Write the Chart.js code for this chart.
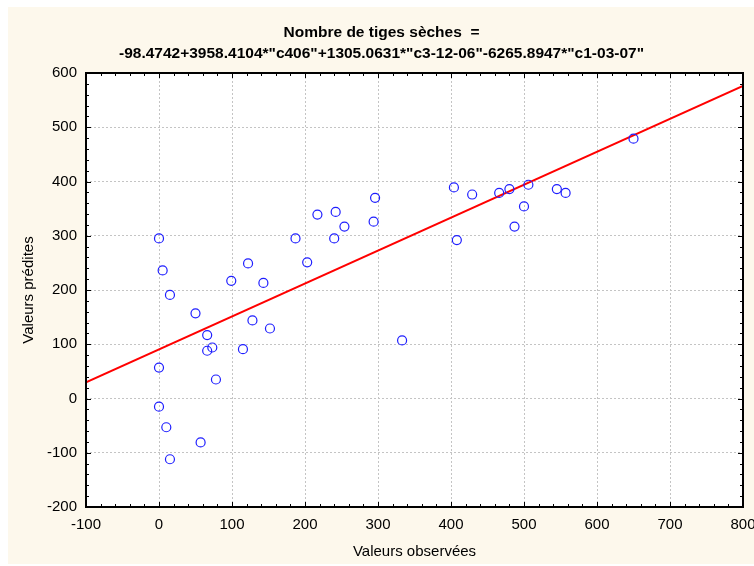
<!DOCTYPE html>
<html>
<head>
<meta charset="utf-8">
<script src="https://cdn.jsdelivr.net/npm/chart.js@4/dist/chart.umd.min.js"></script>
<style>
  html, body { margin: 0; padding: 0; background: #ffffff; }
  #wrap { width: 754px; height: 566px; }
</style>
</head>
<body>
<div id="wrap"><canvas id="predChart" width="754" height="566"></canvas></div>
<script>
const observed = [
  0, 5, 15, 50, 66, 73, 66, 115, 128, 152, 0, 78, 0, 10, 57, 15, 333,
  99, 122, 143, 187, 203, 217, 242, 254, 240, 296, 294,
  404, 408, 429, 466, 480, 506, 500, 487, 545, 557, 650
];
const predicted = [
  295, 236, 191, 157, 117, 94, 88, 91, 144, 129, 57, 35, -15, -53, -81, -112, 107,
  217, 249, 213, 295, 251, 339, 344, 317, 295, 370, 326,
  389, 292, 376, 379, 386, 394, 354, 317, 386, 379, 479
];

// fitted line, end points
const fitX = [-100, 800];
const fitY = [30, 576];

const xTicks = { min: -100, max: 800, step: 100, minor: 20 };
const yTicks = { min: -200, max: 600, step: 100, minor: 20 };

const titleLines = [
  'Nombre de tiges sèches  =',
  '-98.4742+3958.4104*"c406"+1305.0631*"c3-12-06"-6265.8947*"c1-03-07"'
];

const FONT = 'Liberation Sans, Arial, sans-serif';

// cream panel behind everything
const backdrop = {
  id: 'backdrop',
  beforeDraw(chart) {
    const ctx = chart.ctx;
    ctx.save();
    ctx.fillStyle = '#ffffff';
    ctx.fillRect(0, 0, chart.width, chart.height);
    ctx.fillStyle = '#fdf8ec';
    ctx.fillRect(8, 7, chart.width - 8, chart.height - 9);
    const a = chart.chartArea;
    ctx.fillStyle = '#ffffff';
    ctx.fillRect(a.left, a.top, a.right - a.left, a.bottom - a.top);
    ctx.restore();
  }
};

// black frame with inward ticks on all four sides
const frame = {
  id: 'frame',
  afterDraw(chart) {
    const ctx = chart.ctx;
    const a = chart.chartArea;
    const xs = chart.scales.x;
    const ys = chart.scales.y;
    ctx.save();
    ctx.strokeStyle = '#000000';
    ctx.lineWidth = 1;
    ctx.beginPath();
    for (let v = xTicks.min; v <= xTicks.max; v += xTicks.minor) {
      const px = Math.round(xs.getPixelForValue(v)) + 0.5;
      const len = (v % xTicks.step === 0) ? 5 : 3;
      ctx.moveTo(px, a.bottom); ctx.lineTo(px, a.bottom - len);
      ctx.moveTo(px, a.top); ctx.lineTo(px, a.top + len);
    }
    for (let v = yTicks.min; v <= yTicks.max; v += yTicks.minor) {
      const py = Math.round(ys.getPixelForValue(v)) + 0.5;
      const len = (v % yTicks.step === 0) ? 5 : 3;
      ctx.moveTo(a.left, py); ctx.lineTo(a.left + len, py);
      ctx.moveTo(a.right, py); ctx.lineTo(a.right - len, py);
    }
    ctx.stroke();
    ctx.lineWidth = 2;
    ctx.strokeRect(a.left, a.top, a.right - a.left, a.bottom - a.top);
    ctx.restore();
  }
};

const points = observed.map((x, i) => ({ x: x, y: predicted[i] }));
const fitLine = fitX.map((x, i) => ({ x: x, y: fitY[i] }));

const ctx = document.getElementById('predChart').getContext('2d');
new Chart(ctx, {
  type: 'scatter',
  data: {
    datasets: [
      {
        label: 'Régression',
        data: fitLine,
        showLine: true,
        borderColor: '#ff0000',
        borderWidth: 2,
        pointRadius: 0,
        fill: false,
        order: 2
      },
      {
        label: 'Observations',
        data: points,
        pointStyle: 'circle',
        pointRadius: 4.5,
        pointBorderWidth: 1.2,
        borderColor: '#1e1eff',
        backgroundColor: 'rgba(0,0,0,0)',
        order: 1
      }
    ]
  },
  options: {
    responsive: false,
    animation: false,
    devicePixelRatio: 1,
    layout: { padding: { left: 20, right: 11, top: 0, bottom: 0 } },
    plugins: {
      legend: { display: false },
      tooltip: { enabled: false },
      title: {
        display: true,
        text: titleLines,
        color: '#000000',
        font: { family: FONT, size: 15.5, weight: 'bold', lineHeight: 21 / 15.5 },
        padding: { top: 22, bottom: 9 }
      }
    },
    scales: {
      x: {
        type: 'linear',
        min: xTicks.min,
        max: xTicks.max,
        afterFit(scale) {
          scale.height = 59;
          scale.paddingLeft = 0;
          scale.paddingRight = 0;
        },
        ticks: {
          stepSize: xTicks.step,
          color: '#000000',
          padding: 9,
          maxRotation: 0,
          font: { family: FONT, size: 15 }
        },
        grid: { color: '#c4c4c4', lineWidth: 1, drawTicks: false },
        border: { display: false, dash: [2, 2] },
        title: {
          display: true,
          text: 'Valeurs observées',
          color: '#000000',
          font: { family: FONT, size: 15 },
          padding: { top: 0, bottom: 5 }
        }
      },
      y: {
        type: 'linear',
        min: yTicks.min,
        max: yTicks.max,
        afterFit(scale) {
          scale.width = 66;
          scale.paddingTop = 0;
          scale.paddingBottom = 0;
        },
        ticks: {
          stepSize: yTicks.step,
          color: '#000000',
          padding: 9,
          font: { family: FONT, size: 15 }
        },
        grid: { color: '#c4c4c4', lineWidth: 1, drawTicks: false },
        border: { display: false, dash: [2, 2] },
        title: {
          display: true,
          text: 'Valeurs prédites',
          color: '#000000',
          font: { family: FONT, size: 15 },
          padding: { top: 0, bottom: 0 }
        }
      }
    }
  },
  plugins: [backdrop, frame]
});
</script>
</body>
</html>
